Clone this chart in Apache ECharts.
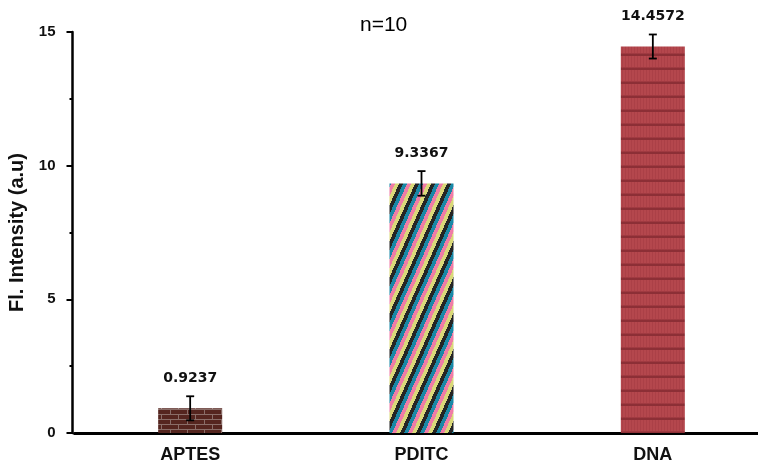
<!DOCTYPE html>
<html>
<head>
<meta charset="utf-8">
<script src="https://cdn.jsdelivr.net/npm/echarts@6/dist/echarts.min.js"></script>
<style>
  html, body { margin: 0; padding: 0; background: #fff; }
  #chartBar { width: 758px; height: 470px; }
</style>
</head>
<body>
<div id="chartBar"></div>
<script>
var categories = ['APTES', 'PDITC', 'DNA']
var values = [0.9237, 9.3367, 14.4572]
var errors = [0.45, 0.46, 0.45]
var yTicks = [0, 5, 10, 15]

// pattern tiles for the three bars
function brickTile() {
  var c = document.createElement('canvas')
  c.width = 34; c.height = 10
  var g = c.getContext('2d')
  g.fillStyle = '#55251f'
  g.fillRect(0, 0, 34, 10)
  g.fillStyle = '#8a6d68'
  g.fillRect(0, 4, 34, 1)
  g.fillRect(0, 9, 34, 1)
  g.fillRect(0, 0, 1, 4)
  g.fillRect(17, 0, 1, 4)
  g.fillRect(8, 5, 1, 4)
  g.fillRect(25, 5, 1, 4)
  return c
}

function stripeTile() {
  var W = 16, H = 36
  var cols = ['#252525', '#1a88a6', '#ef7ca6', '#dad879']
  var c = document.createElement('canvas')
  c.width = W; c.height = H
  var g = c.getContext('2d')
  for (var y = 0; y < H; y++) {
    for (var x = 0; x < W; x++) {
      var u = (x + y * W / H) % W
      g.fillStyle = cols[Math.floor(u / W * 4) % 4]
      g.fillRect(x, y, 1, 1)
    }
  }
  return c
}

function redTile() {
  var c = document.createElement('canvas')
  c.width = 6; c.height = 14
  var g = c.getContext('2d')
  g.fillStyle = '#b4474d'
  g.fillRect(0, 0, 6, 14)
  g.fillStyle = '#ab4047'
  g.fillRect(1, 0, 1, 14)
  g.fillRect(4, 0, 1, 14)
  g.fillStyle = '#a03a41'
  g.fillRect(0, 11, 6, 1)
  g.fillStyle = '#8c2f36'
  g.fillRect(0, 12, 6, 2)
  return c
}

var fills = [
  { image: brickTile(), repeat: 'repeat' },
  { image: stripeTile(), repeat: 'repeat' },
  { image: redTile(), repeat: 'repeat' }
]

var chart = echarts.init(document.getElementById('chartBar'))
chart.setOption({
  animation: false,
  backgroundColor: '#fff',
  title: {
    text: 'n=10',
    left: 355,
    top: 10,
    textStyle: { fontFamily: 'Liberation Sans', fontWeight: 'normal', fontSize: 21, color: '#000' }
  },
  grid: { left: 74.5, top: 32, bottom: 37, width: 694, outerBoundsMode: 'none', containLabel: false },
  xAxis: {
    type: 'category',
    data: categories,
    axisLine: { lineStyle: { color: '#000', width: 3 } },
    axisTick: { show: false },
    axisLabel: {
      margin: 13,
      color: '#111',
      fontFamily: 'Liberation Sans',
      fontWeight: 'bold',
      fontSize: 18
    }
  },
  yAxis: {
    type: 'value',
    min: yTicks[0],
    max: yTicks[yTicks.length - 1],
    interval: 5,
    offset: 2,
    name: 'Fl. Intensity (a.u)',
    nameLocation: 'middle',
    nameGap: 42,
    nameTextStyle: { fontFamily: 'Liberation Sans', fontWeight: 'bold', fontSize: 20, color: '#111' },
    axisLine: { show: true, lineStyle: { color: '#000', width: 2.5 } },
    axisTick: { show: true, length: 6, lineStyle: { color: '#000', width: 2 } },
    minorTick: { show: true, splitNumber: 2, length: 3, lineStyle: { color: '#000', width: 2 } },
    splitLine: { show: false },
    axisLabel: {
      margin: 17,
      color: '#111',
      fontFamily: 'Liberation Sans',
      fontWeight: 'bold',
      fontSize: 15
    }
  },
  series: [
    {
      type: 'bar',
      barWidth: 64,
      data: values.map(function (v, i) {
        return { value: v, itemStyle: { color: fills[i] } }
      })
    },
    {
      type: 'custom',
      z: 5,
      data: values.map(function (v, i) { return [i, v, errors[i]] }),
      renderItem: function (params, api) {
        var i = api.value(0), v = api.value(1), e = api.value(2)
        var hi = api.coord([i, v + e])
        var lo = api.coord([i, v - e])
        var x = hi[0]
        var st = { stroke: '#000', lineWidth: 1.8 }
        return {
          type: 'group',
          children: [
            { type: 'line', shape: { x1: x, y1: hi[1], x2: x, y2: lo[1] }, style: st },
            { type: 'line', shape: { x1: x - 4, y1: hi[1], x2: x + 4, y2: hi[1] }, style: st },
            { type: 'line', shape: { x1: x - 4, y1: lo[1], x2: x + 4, y2: lo[1] }, style: st },
            {
              type: 'text',
              x: x,
              y: hi[1] - 18,
              style: {
                text: String(values[params.dataIndex]),
                fill: '#111',
                font: 'bold 14px "DejaVu Sans"',
                align: 'center',
                verticalAlign: 'middle'
              }
            }
          ]
        }
      }
    }
  ]
})
</script>
</body>
</html>
